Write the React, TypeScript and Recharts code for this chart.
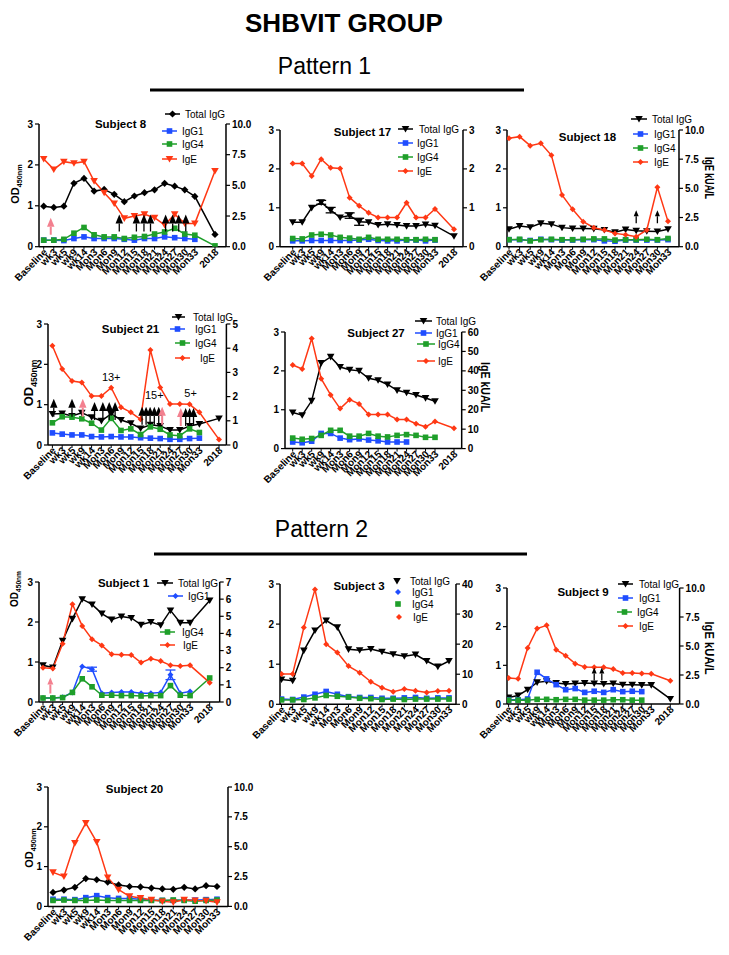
import React from 'react';
import { ComposedChart, Line, Scatter, XAxis, YAxis, ErrorBar } from 'recharts';

const FONT = '"Liberation Sans", Arial, Helvetica, sans-serif';
const BLACK = '#000000';
const BLUE = '#1f4dff';
const GREEN = '#1f9f2a';
const RED = '#ff3814';
const PINK = '#f3808f';
const COLORS = [BLACK, BLUE, GREEN, RED];
const seriesNames = ['Total IgG', 'IgG1', 'IgG4', 'IgE'];

// time points; 2018 sits one slot after Mon33
const timepoints = ['Baseline', 'wk3', 'wk5', 'wk9', 'wk14', 'Mon3', 'Mon6', 'Mon9', 'Mon12', 'Mon15', 'Mon18', 'Mon21', 'Mon24', 'Mon27', 'Mon30', 'Mon33', '2018'];
const ticksWith2018 = [0, 1, 2, 3, 4, 5, 6, 7, 8, 9, 10, 11, 12, 13, 14, 15, 17];
const ticksTo33 = [0, 1, 2, 3, 4, 5, 6, 7, 8, 9, 10, 11, 12, 13, 14, 15];

// Subject 8
const s8Total = [0.99, 0.96, 0.99, 1.55, 1.67, 1.36, 1.40, 1.28, 1.10, 1.24, 1.32, 1.39, 1.55, 1.48, 1.39, 1.23, 0.30];
const s8G1 = [0.16, 0.16, 0.15, 0.20, 0.24, 0.20, 0.20, 0.20, 0.18, 0.16, 0.20, 0.20, 0.24, 0.22, 0.20, 0.18];
const s8G4 = [0.16, 0.16, 0.18, 0.33, 0.47, 0.29, 0.24, 0.24, 0.20, 0.23, 0.25, 0.31, 0.36, 0.45, 0.31, 0.28, 0.02];
const s8IgE = [7.15, 6.3, 6.93, 6.8, 6.93, 5.35, 4.4, 3.53, 2.31, 2.5, 2.64, 2.36, 1.77, 2.64, 1.9, 1.9, 6.17];
const s8Arrows = [
  { x: 0.7, y: 0.29, c: 'p' }, { x: 7.5, y: 0.37, c: 'k' }, { x: 9.2, y: 0.37, c: 'k' }, { x: 9.95, y: 0.37, c: 'k' },
  { x: 10.6, y: 0.37, c: 'k' }, { x: 12.1, y: 0.37, c: 'k' }, { x: 12.8, y: 0.37, c: 'k' }, { x: 13.4, y: 0.37, c: 'k' }, { x: 14.1, y: 0.37, c: 'k' },
];

// Subject 17
const s17Total = [0.63, 0.63, 1.0, 1.14, 0.94, 0.75, 0.8, 0.64, 0.63, 0.56, 0.58, 0.56, 0.53, 0.53, 0.57, 0.54, 0.27];
const s17TotalErr = [0, 0, 0, 0.05, 0.07, 0, 0.07, 0.09, 0, 0, 0, 0, 0, 0, 0, 0, 0];
const s17G1 = [0.15, 0.15, 0.16, 0.16, 0.16, 0.16, 0.16, 0.17, 0.19, 0.16, 0.15, 0.15, 0.17, 0.17, 0.15, 0.17];
const s17G4 = [0.21, 0.2, 0.3, 0.32, 0.3, 0.24, 0.22, 0.19, 0.24, 0.19, 0.19, 0.19, 0.18, 0.18, 0.19, 0.18];
const s17IgE = [2.14, 2.14, 1.82, 2.25, 2.03, 2.01, 1.26, 1.05, 0.87, 0.75, 0.75, 0.75, 1.13, 0.75, 0.75, 0.97, 0.45];

// Subject 18
const s18Total = [0.45, 0.53, 0.5, 0.6, 0.58, 0.49, 0.47, 0.47, 0.46, 0.43, 0.37, 0.44, 0.41, 0.4, 0.39, 0.45];
const s18G1 = [0.18, 0.18, 0.16, 0.19, 0.18, 0.17, 0.17, 0.18, 0.18, 0.15, 0.14, 0.17, 0.17, 0.17, 0.17, 0.18];
const s18G4 = [0.18, 0.19, 0.15, 0.18, 0.19, 0.18, 0.18, 0.19, 0.2, 0.2, 0.17, 0.18, 0.18, 0.19, 0.18, 0.21];
const s18IgE = [9.29, 9.43, 8.66, 8.86, 7.83, 4.43, 3.2, 2.14, 1.63, 1.43, 1.14, 1.03, 0.86, 1.43, 5.09, 2.17];
const s18Arrows = [{ x: 12, y: 0.6, c: 'k' }, { x: 14, y: 0.6, c: 'k' }];

// Subject 21
const s21Total = [0.77, 0.78, 0.72, 0.8, 0.69, 0.6, 0.77, 0.62, 0.54, 0.41, 0.5, 0.47, 0.37, 0.37, 0.47, 0.52, 0.66];
const s21G1 = [0.3, 0.27, 0.25, 0.25, 0.21, 0.2, 0.21, 0.2, 0.2, 0.18, 0.17, 0.16, 0.14, 0.14, 0.16, 0.17];
const s21G4 = [0.55, 0.7, 0.69, 0.65, 0.54, 0.37, 0.66, 0.36, 0.4, 0.26, 0.45, 0.39, 0.25, 0.23, 0.4, 0.31];
const s21IgE = [4.1, 3.14, 2.64, 2.58, 2.02, 2.02, 2.37, 1.56, 1.35, 1.06, 3.93, 2.38, 1.69, 1.69, 1.68, 1.35, 0.23];
const s21Arrows = [
  { x: 0.14, y: 0.7, c: 'k' }, { x: 2.0, y: 0.7, c: 'k' }, { x: 3.1, y: 0.7, c: 'p' }, { x: 4.3, y: 0.62, c: 'k' },
  { x: 5.15, y: 0.62, c: 'k' }, { x: 5.8, y: 0.62, c: 'k' }, { x: 6.4, y: 0.62, c: 'k' },
  { x: 9.15, y: 0.5, c: 'k' }, { x: 9.56, y: 0.5, c: 'k' }, { x: 9.97, y: 0.5, c: 'k' }, { x: 10.4, y: 0.5, c: 'k' },
  { x: 10.85, y: 0.5, c: 'k' }, { x: 11.2, y: 0.5, c: 'p' }, { x: 13.1, y: 0.47, c: 'p' }, { x: 13.6, y: 0.47, c: 'k' },
  { x: 14.0, y: 0.47, c: 'k' }, { x: 14.4, y: 0.47, c: 'k' },
];
const s21Notes = [{ x: 6, y: 1.59, t: '13+' }, { x: 10.4, y: 1.14, t: '15+' }, { x: 14.1, y: 1.2, t: '5+' }];

// Subject 27
const s27Total = [0.93, 0.86, 1.23, 2.2, 2.36, 2.1, 2.03, 2.0, 1.81, 1.76, 1.65, 1.5, 1.44, 1.38, 1.3, 1.22];
const s27G1 = [0.17, 0.15, 0.19, 0.39, 0.39, 0.27, 0.23, 0.25, 0.22, 0.2, 0.17, 0.17, 0.17];
const s27G4 = [0.27, 0.24, 0.26, 0.34, 0.47, 0.47, 0.32, 0.32, 0.39, 0.32, 0.3, 0.34, 0.36, 0.34, 0.29, 0.29];
const s27IgE = [43, 41, 56.6, 36, 27.6, 20.6, 25.2, 23, 17.6, 17.6, 17.6, 15, 15, 12.8, 11.2, 14, 10.5];

// Subject 1
const s1Total = [0.92, 0.86, 1.53, 2.08, 2.57, 2.44, 2.21, 2.06, 2.14, 2.1, 1.93, 2.0, 1.92, 2.29, 1.98, 1.98, 2.54];
const s1G1 = [0.1, 0.1, 0.12, 0.24, 0.89, 0.82, 0.22, 0.24, 0.25, 0.25, 0.22, 0.22, 0.24, 0.68, 0.22, 0.26];
const s1G1Err = [0, 0, 0, 0, 0, 0.05, 0, 0, 0, 0, 0, 0, 0, 0.12, 0, 0];
const s1G4 = [0.1, 0.1, 0.11, 0.24, 0.58, 0.38, 0.17, 0.17, 0.16, 0.16, 0.15, 0.16, 0.16, 0.41, 0.17, 0.16, 0.6];
const s1IgE = [2.0, 1.95, 3.4, 5.7, 4.44, 3.66, 3.3, 2.78, 2.76, 2.74, 2.3, 2.53, 2.39, 2.14, 2.1, 2.14, 1.13];
const s1Arrows = [{ x: 0.75, y: 0.21, c: 'p' }];

// Subject 3
const s3Total = [0.62, 0.59, 1.34, 1.84, 2.09, 1.92, 1.37, 1.35, 1.38, 1.31, 1.25, 1.2, 1.24, 1.08, 0.94, 1.08];
const s3G1 = [0.13, 0.12, 0.18, 0.25, 0.32, 0.25, 0.19, 0.17, 0.17, 0.15, 0.15, 0.16, 0.17, 0.15, 0.16, 0.16];
const s3G4 = [0.11, 0.11, 0.12, 0.16, 0.22, 0.2, 0.18, 0.15, 0.14, 0.12, 0.13, 0.12, 0.13, 0.13, 0.13, 0.13];
const s3IgE = [10.1, 10.1, 25.5, 38.2, 20, 17.2, 12.7, 10.5, 7.5, 5.5, 4.2, 5.1, 4.5, 3.9, 4.4, 4.5];

// Subject 9
const s9Total = [0.17, 0.22, 0.37, 0.56, 0.59, 0.54, 0.52, 0.53, 0.54, 0.53, 0.52, 0.53, 0.5, 0.5, 0.49, 0.49, 0.13];
const s9G1 = [0.11, 0.11, 0.13, 0.82, 0.65, 0.5, 0.37, 0.4, 0.3, 0.33, 0.3, 0.37, 0.32, 0.33, 0.32];
const s9G4 = [0.1, 0.1, 0.1, 0.12, 0.12, 0.11, 0.12, 0.12, 0.1, 0.1, 0.1, 0.11, 0.11, 0.1, 0.1];
const s9IgE = [2.24, 2.18, 4.83, 6.5, 6.78, 4.68, 4.17, 3.48, 3.19, 3.16, 3.16, 3.02, 2.67, 2.67, 2.64, 2.61, 2.01];
const s9Arrows = [{ x: 9.0, y: 0.61, c: 'k' }, { x: 9.8, y: 0.61, c: 'k' }];

// Subject 20
const s20Total = [0.35, 0.41, 0.48, 0.7, 0.67, 0.61, 0.54, 0.5, 0.49, 0.46, 0.44, 0.43, 0.48, 0.44, 0.52, 0.5];
const s20G1 = [0.18, 0.18, 0.17, 0.22, 0.27, 0.22, 0.2, 0.2, 0.18, 0.16, 0.15, 0.15, 0.16, 0.16, 0.17, 0.18];
const s20G4 = [0.15, 0.16, 0.15, 0.15, 0.16, 0.15, 0.15, 0.15, 0.15, 0.15, 0.15, 0.16, 0.15, 0.13, 0.15, 0.16];
const s20IgE = [2.85, 2.51, 5.3, 6.98, 5.39, 2.43, 1.4, 0.84, 0.7, 0.56, 0.42, 0.34, 0.56, 0.5, 0.47, 0.34];

const ticks10 = [0, 2.5, 5, 7.5, 10];

function buildRows(total: number[], g1: number[], g4: number[], ige: number[], totalErr: number[] = [], g1Err: number[] = []) {
  const n = Math.max(total.length, g1.length, g4.length, ige.length);
  const out: any[] = [];
  for (let i = 0; i < n; i++) {
    out.push({
      x: i < 16 ? i : 17,
      total: total[i] ?? null,
      g1: g1[i] ?? null,
      g4: g4[i] ?? null,
      ige: ige[i] ?? null,
      totalErr: totalErr[i] ?? 0,
      g1Err: g1Err[i] ?? 0,
    });
  }
  return out;
}

type Kind = 'square' | 'diamond' | 'tri' | 'sdia';

function drawMarker(kind: Kind, cx: number, cy: number, color: string, key?: any) {
  if (kind === 'square') return <rect key={key} x={cx - 2.8} y={cy - 2.8} width={5.6} height={5.6} fill={color} />;
  if (kind === 'diamond') return <polygon key={key} points={`${cx},${cy - 3.6} ${cx + 3.6},${cy} ${cx},${cy + 3.6} ${cx - 3.6},${cy}`} fill={color} />;
  if (kind === 'tri') return <polygon key={key} points={`${cx - 3.8},${cy - 3} ${cx + 3.8},${cy - 3} ${cx},${cy + 3.6}`} fill={color} />;
  return <polygon key={key} points={`${cx},${cy - 3} ${cx + 3},${cy} ${cx},${cy + 3} ${cx - 3},${cy}`} fill={color} />;
}

const dotFn = (kind: Kind, color: string) => (p: any) => {
  if (p.cx == null || p.cy == null || p.value == null || isNaN(p.cy)) return <g key={p.key} />;
  return drawMarker(kind, p.cx, p.cy, color, p.key);
};

const arrowFn = (len: number, hw: number, hh: number) => (p: any) => {
  const { cx, cy, payload } = p;
  const c = payload.c === 'p' ? PINK : BLACK;
  return (
    <g>
      <line x1={cx} y1={cy} x2={cx} y2={cy - len + hh} stroke={c} strokeWidth={payload.c === 'p' ? 2 : 1.3} />
      <polygon points={`${cx - hw / 2},${cy - len + hh} ${cx + hw / 2},${cy - len + hh} ${cx},${cy - len}`} fill={c} />
    </g>
  );
};

const noteShape = (p: any) => (
  <text x={p.cx} y={p.cy} textAnchor="middle" fontSize={11} fontFamily={FONT} fill={BLACK}>{p.payload.t}</text>
);

const XTick = (p: any) => {
  const { x, y, payload } = p;
  const v = payload.value;
  const label = v === 17 ? '2018' : timepoints[v];
  return (
    <text x={x + 2} y={y} dy={3} textAnchor="end" transform={`rotate(-45, ${x + 2}, ${y})`}
      fontSize={10} fontWeight={700} fontFamily={FONT} fill={BLACK}>{label}</text>
  );
};

const YW_L = 26;
const YW_R = 34;
const MT = 6;
const XH = 50;

const tickStyle = { fontSize: 10, fontWeight: 700, fill: BLACK, fontFamily: FONT };

function Panel({ cfg }: { cfg: any }) {
  const [L, T, R, B] = cfg.box;
  const unit = (cfg.last - cfg.first) / cfg.lastX;
  const dmin = -(cfg.first - L) / unit;
  const dmax = cfg.lastX + (R - cfg.last) / unit;
  const kinds: Kind[] = cfg.kinds;
  const keys = ['total', 'g1', 'g4', 'ige'];
  return (
    <div style={{ position: 'absolute', left: L - YW_L, top: T - MT }}>
      <ComposedChart width={R - L + YW_L + YW_R} height={B - T + MT + XH} data={cfg.rows}
        margin={{ top: MT, right: 0, bottom: 0, left: 0 }}>
        <XAxis type="number" dataKey="x" domain={[dmin, dmax]} allowDataOverflow ticks={cfg.lastX === 17 ? ticksWith2018 : ticksTo33}
          interval={0} tick={<XTick />} tickSize={3} tickMargin={1} height={XH}
          axisLine={{ stroke: BLACK, strokeWidth: 1.5 }} tickLine={{ stroke: BLACK }} />
        <YAxis yAxisId="l" domain={[0, 3]} ticks={[0, 1, 2, 3]} width={YW_L} allowDataOverflow tick={tickStyle}
          tickSize={4} tickMargin={2} axisLine={{ stroke: BLACK, strokeWidth: 1.5 }} tickLine={{ stroke: BLACK, strokeWidth: 1.2 }} />
        <YAxis yAxisId="r" orientation="right" domain={[0, cfg.rightMax]} ticks={cfg.rightTicks} width={YW_R} allowDataOverflow
          tick={tickStyle} tickSize={4} tickMargin={2} tickFormatter={(v: number) => v.toFixed(cfg.dec)}
          axisLine={{ stroke: BLACK, strokeWidth: 1.5 }} tickLine={{ stroke: BLACK, strokeWidth: 1.2 }} />
        {keys.map((k, i) => (
          <Line key={k} yAxisId={i === 3 ? 'r' : 'l'} type="linear" dataKey={k} stroke={COLORS[i]} strokeWidth={1.5}
            dot={dotFn(kinds[i], COLORS[i])} activeDot={false} isAnimationActive={false} connectNulls={false}>
            {k === 'total' && cfg.errTotal ? <ErrorBar dataKey="totalErr" width={5} stroke={BLACK} strokeWidth={1.3} direction="y" /> : null}
            {k === 'g1' && cfg.errG1 ? <ErrorBar dataKey="g1Err" width={5} stroke={BLUE} strokeWidth={1.3} direction="y" /> : null}
          </Line>
        ))}
        {cfg.arrows ? (
          <Scatter yAxisId="l" data={cfg.arrows} dataKey="y" shape={arrowFn(cfg.arrowSize[0], cfg.arrowSize[1], cfg.arrowSize[2])} isAnimationActive={false} />
        ) : null}
        {cfg.notes ? <Scatter yAxisId="l" data={cfg.notes} dataKey="y" shape={noteShape} isAnimationActive={false} /> : null}
      </ComposedChart>
    </div>
  );
}

const panels: any[] = [
  {
    title: 'Subject 8', tx: 120.5, ty: 128, box: [39, 124, 226, 246.7], first: 43.7, last: 215, lastX: 17,
    rows: buildRows(s8Total, s8G1, s8G4, s8IgE), rightMax: 10, rightTicks: ticks10, dec: 1,
    kinds: ['diamond', 'square', 'square', 'tri'],
    legend: [[114, 165, 180, 185], [131, 162, 177, 182], [144, 162, 177, 182], [159, 162, 177, 182]],
    arrows: s8Arrows, arrowSize: [17, 7.5, 9], od: { x: 19, y: 184, size: 11, len: 38 },
  },
  {
    title: 'Subject 17', tx: 362.5, ty: 136, box: [280, 130, 463, 246.7], first: 292.7, last: 454, lastX: 17,
    rows: buildRows(s17Total, s17G1, s17G4, s17IgE, s17TotalErr), rightMax: 3, rightTicks: [0, 1, 2, 3], dec: 0,
    kinds: ['tri', 'square', 'square', 'sdia'], errTotal: true,
    legend: [[129, 398, 413, 419], [143, 398, 413, 417], [157, 398, 413, 417], [171, 398, 413, 417]],
  },
  {
    title: 'Subject 18', tx: 587.5, ty: 141, box: [507.3, 130, 679.3, 246.7], first: 509.3, last: 668.3, lastX: 15,
    rows: buildRows(s18Total, s18G1, s18G4, s18IgE), rightMax: 10, rightTicks: ticks10, dec: 1,
    kinds: ['tri', 'square', 'square', 'sdia'],
    legend: [[119, 631, 647, 652], [134, 633, 648, 654], [148, 633, 648, 654], [162, 633, 648, 654]],
    arrows: s18Arrows, arrowSize: [13, 5, 6], ige: { x: 705, y: 178, len: 42 },
  },
  {
    title: 'Subject 21', tx: 130.5, ty: 333, box: [48.3, 324, 226.7, 445], first: 52.7, last: 219.3, lastX: 17,
    rows: buildRows(s21Total, s21G1, s21G4, s21IgE), rightMax: 5, rightTicks: [0, 1, 2, 3, 4, 5], dec: 0,
    kinds: ['tri', 'square', 'square', 'sdia'],
    legend: [[317, 172, 185, 193], [329, 170, 185, 195], [343, 175, 190, 195], [358, 175, 190, 200]],
    arrows: s21Arrows, arrowSize: [18, 7.5, 9], notes: s21Notes, od: { x: 33, y: 383, size: 13, len: 44 },
  },
  {
    title: 'Subject 27', tx: 376, ty: 337, box: [285, 331.7, 461.7, 448.3], first: 292.7, last: 454, lastX: 17,
    rows: buildRows(s27Total, s27G1, s27G4, s27IgE), rightMax: 60, rightTicks: [0, 10, 20, 30, 40, 50, 60], dec: 0,
    kinds: ['tri', 'square', 'square', 'sdia'],
    legend: [[321, 415, 432, 436], [333, 415, 432, 436], [344, 417, 435, 438], [361, 417, 435, 438]],
    ige: { x: 481, y: 387, len: 50 },
  },
  {
    title: 'Subject 1', tx: 123.5, ty: 587, box: [39.3, 581.7, 220, 701.7], first: 43.3, last: 210, lastX: 17,
    rows: buildRows(s1Total, s1G1, s1G4, s1IgE, [], s1G1Err), rightMax: 7, rightTicks: [0, 1, 2, 3, 4, 5, 6, 7], dec: 0,
    kinds: ['tri', 'sdia', 'square', 'sdia'], errG1: true,
    legend: [[583, 157, 173, 178], [596, 168, 183, 188], [632, 160, 175, 182], [645, 160, 175, 183]],
    arrows: s1Arrows, arrowSize: [16, 6, 7], od: { x: 18, y: 589, size: 10, len: 32 },
  },
  {
    title: 'Subject 3', tx: 359, ty: 590, box: [280, 584, 456, 704.3], first: 281.5, last: 449, lastX: 15,
    rows: buildRows(s3Total, s3G1, s3G4, s3IgE), rightMax: 40, rightTicks: [0, 10, 20, 30, 40], dec: 0,
    kinds: ['tri', 'square', 'square', 'sdia'], legendKinds: ['tri', 'sdia', 'square', 'sdia'],
    legend: [[581, 397, 397, 410], [592, 398, 398, 412], [604, 398, 398, 412], [617, 399, 399, 413]],
  },
  {
    title: 'Subject 9', tx: 583, ty: 596, box: [506.7, 588.3, 679.3, 704.3], first: 508.3, last: 670, lastX: 17,
    rows: buildRows(s9Total, s9G1, s9G4, s9IgE), rightMax: 10, rightTicks: ticks10, dec: 1,
    kinds: ['tri', 'square', 'square', 'sdia'],
    legend: [[584, 618, 633, 639], [598, 618, 633, 639], [612, 617, 632, 637], [626, 618, 633, 639]],
    arrows: s9Arrows, arrowSize: [13, 5, 6], ige: { x: 705, y: 648, len: 53 },
  },
  {
    title: 'Subject 20', tx: 134.5, ty: 793, box: [48.3, 787.3, 228.3, 906.7], first: 53.3, last: 217.3, lastX: 15,
    rows: buildRows(s20Total, s20G1, s20G4, s20IgE), rightMax: 10, rightTicks: ticks10, dec: 1,
    kinds: ['diamond', 'square', 'square', 'tri'],
    od: { x: 33, y: 848, size: 11, len: 37 },
  },
];

function Overlay() {
  return (
    <svg width={729} height={955} style={{ position: 'absolute', left: 0, top: 0, pointerEvents: 'none' }} fontFamily={FONT}>
      <text x={344} y={32} textAnchor="middle" fontSize={26} fontWeight={700} fill={BLACK}>SHBVIT GROUP</text>
      <text x={324.5} y={74} textAnchor="middle" fontSize={23} fill={BLACK}>Pattern 1</text>
      <line x1={150} x2={524} y1={90} y2={90} stroke={BLACK} strokeWidth={3} />
      <text x={321.5} y={537} textAnchor="middle" fontSize={23} fill={BLACK}>Pattern 2</text>
      <line x1={154} x2={527} y1={554} y2={554} stroke={BLACK} strokeWidth={3} />
      {panels.map((p, pi) => (
        <g key={pi}>
          <text x={p.tx} y={p.ty} textAnchor="middle" fontSize={11.5} fontWeight={700} fill={BLACK}>{p.title}</text>
          {p.legend ? p.legend.map((r: number[], i: number) => {
            const [y, x1, x2, tx] = r;
            const kind = (p.legendKinds || p.kinds)[i];
            return (
              <g key={i}>
                {x2 > x1 ? <line x1={x1} x2={x2} y1={y} y2={y} stroke={COLORS[i]} strokeWidth={1.5} /> : null}
                {drawMarker(kind, (x1 + x2) / 2, y, COLORS[i])}
                <text x={tx} y={y + 3.6} fontSize={10} fill={BLACK}>{seriesNames[i]}</text>
              </g>
            );
          }) : null}
          {p.od ? (
            <text transform={`translate(${p.od.x},${p.od.y}) rotate(-90)`} textAnchor="middle" fontSize={p.od.size} fontWeight={700} fill={BLACK}>
              OD<tspan fontSize={p.od.size * 0.66} dy={p.od.size * 0.3}>450nm</tspan>
            </text>
          ) : null}
          {p.ige ? (
            <text transform={`translate(${p.ige.x},${p.ige.y}) rotate(90)`} textAnchor="middle" fontSize={13} fontWeight={700}
              fill={BLACK} textLength={p.ige.len} lengthAdjust="spacingAndGlyphs">IgE kUA/L</text>
          ) : null}
        </g>
      ))}
    </svg>
  );
}

export default function App() {
  return (
    <div style={{ position: 'absolute', left: 0, top: 0, width: 729, height: 955, background: '#fff', fontFamily: FONT }}>
      <style>{`.recharts-surface { overflow: visible; } .recharts-wrapper { overflow: visible; }`}</style>
      {panels.map((p, i) => <Panel key={i} cfg={p} />)}
      <Overlay />
    </div>
  );
}
